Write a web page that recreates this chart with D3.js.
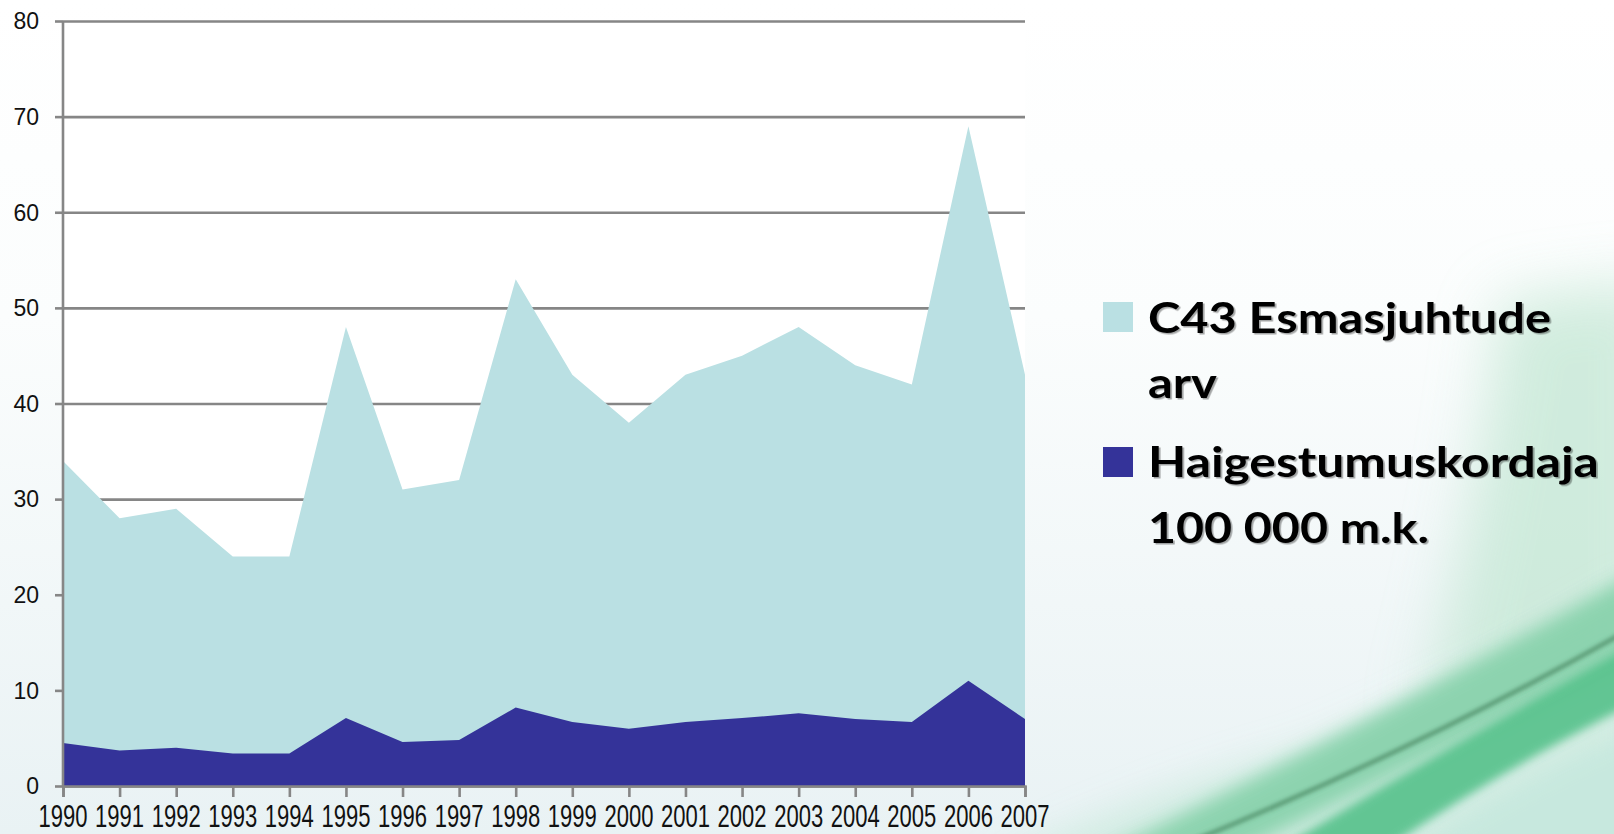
<!DOCTYPE html>
<html>
<head>
<meta charset="utf-8">
<script src="https://cdn.jsdelivr.net/npm/d3@7"></script>
<style>
  html, body { margin: 0; padding: 0; background: #ffffff; }
  svg { display: block; }
</style>
</head>
<body>
<svg id="chart" width="1614" height="834"></svg>
<script>
// Years on the category axis
const years = ["1990","1991","1992","1993","1994","1995","1996","1997","1998",
               "1999","2000","2001","2002","2003","2004","2005","2006","2007"];
// C43 first-time cases (count)
const esmasjuhtudeArv = [34, 28, 29, 24, 24, 48, 31, 32, 53, 43, 38, 43, 45, 48, 44, 42, 69, 43];
// Incidence per 100 000 inhabitants
const haigestumuskordaja = [4.5, 3.7, 4.0, 3.4, 3.4, 7.1, 4.6, 4.8, 8.2, 6.7, 6.0, 6.7, 7.1, 7.6, 7.0, 6.7, 11.0, 7.0];
// Value axis ticks
const yTicks = [0, 10, 20, 30, 40, 50, 60, 70, 80];
// Legend entries (label lines)
const legendItems = [
  { lines: ["C43 Esmasjuhtude", "arv"], color: "#bae0e3" },
  { lines: ["Haigestumuskordaja", "100 000 m.k."], color: "#343399" }
];

const svg = d3.select("#chart");
const W = 1614, H = 834;
const defs = svg.append("defs");

// ---------- slide background ----------
const bgGrad = defs.append("linearGradient").attr("id", "bgV")
  .attr("x1", 0).attr("y1", 0).attr("x2", 0).attr("y2", 1);
bgGrad.append("stop").attr("offset", "0").attr("stop-color", "#ffffff");
bgGrad.append("stop").attr("offset", "0.38").attr("stop-color", "#fbfdfd");
bgGrad.append("stop").attr("offset", "1").attr("stop-color", "#e9f2f4");
svg.append("rect").attr("width", W).attr("height", H).attr("fill", "url(#bgV)");

function blur(id, sd) {
  const f = defs.append("filter").attr("id", id)
    .attr("x", "-40%").attr("y", "-40%").attr("width", "180%").attr("height", "180%");
  f.append("feGaussianBlur").attr("stdDeviation", sd);
}
blur("b30", 30);
blur("b18", 18);
blur("b9", 9);
blur("b5", 5);
blur("b2", 2);

const swoosh = svg.append("g");
// faint green tint down the right edge
swoosh.append("path")
  .attr("d", "M1500,300 L1660,280 L1660,700 L1420,720 Q1480,500 1500,300 Z")
  .attr("fill", "#c6e8d6").attr("opacity", 0.8).attr("filter", "url(#b30)");
// pale mint glow along the bottom
swoosh.append("path")
  .attr("d", "M980,870 Q1150,790 1300,750 Q1450,690 1640,580 L1640,870 Z")
  .attr("fill", "#cdebdf").attr("opacity", 0.85).attr("filter", "url(#b18)");
// medium green band above the streak
swoosh.append("path")
  .attr("d", "M1090,860 Q1360,728 1640,570 L1640,650 Q1430,760 1220,860 Z")
  .attr("fill", "#86d1aa").attr("opacity", 0.9).attr("filter", "url(#b9)");
// bright green band right under the streak
swoosh.append("path")
  .attr("d", "M1260,860 Q1450,745 1640,640 L1640,700 Q1490,775 1370,860 Z")
  .attr("fill", "#4fbf86").attr("opacity", 0.85).attr("filter", "url(#b5)");
// lighter corner below the ribbon
swoosh.append("path")
  .attr("d", "M1400,860 Q1520,780 1640,730 L1640,860 Z")
  .attr("fill", "#c6e8de").attr("opacity", 0.85).attr("filter", "url(#b9)");
// dark streak
swoosh.append("path")
  .attr("d", "M1195,840 Q1420,748 1625,632")
  .attr("fill", "none").attr("stroke", "#3e7a55").attr("stroke-width", 3.5)
  .attr("opacity", 0.8).attr("filter", "url(#b2)");

// ---------- chart ----------
const x = d3.scalePoint().domain(years).range([63, 1025]);
const y = d3.scaleLinear().domain([0, 80]).range([786, 21]);

const gridColor = "#868686";

// plot area
svg.append("rect")
  .attr("x", x(years[0])).attr("y", y(80))
  .attr("width", x(years[years.length - 1]) - x(years[0]))
  .attr("height", y(0) - y(80))
  .attr("fill", "#ffffff");

// horizontal gridlines with left tick marks
svg.append("g").attr("transform", `translate(${x(years[0])},0)`)
  .call(d3.axisLeft(y).tickValues(yTicks)
        .tickSize(-(x(years[years.length - 1]) - x(years[0]))).tickFormat(""))
  .call(g => g.select(".domain").remove())
  .call(g => g.selectAll(".tick line").attr("stroke", gridColor).attr("stroke-width", 2.6));
svg.append("g").attr("transform", `translate(${x(years[0])},0)`)
  .call(d3.axisLeft(y).tickValues(yTicks).tickSize(8).tickFormat(""))
  .call(g => g.select(".domain").remove())
  .call(g => g.selectAll(".tick line").attr("stroke", gridColor).attr("stroke-width", 2.6));

// areas (drawn overlapping, count first, incidence in front)
const areaOf = vals => d3.area()
  .x((d, i) => x(years[i]))
  .y0(y(0))
  .y1(d => y(d))(vals);

svg.append("path").attr("d", areaOf(esmasjuhtudeArv)).attr("fill", "#bae0e3");
svg.append("path").attr("d", areaOf(haigestumuskordaja)).attr("fill", "#343399");

// value axis line
svg.append("line")
  .attr("x1", x(years[0])).attr("x2", x(years[0]))
  .attr("y1", y(80)).attr("y2", y(0))
  .attr("stroke", gridColor).attr("stroke-width", 2.6);

// value axis labels
svg.append("g").selectAll("text").data(yTicks).join("text")
  .attr("x", 39).attr("y", d => y(d))
  .attr("dy", "0.36em")
  .attr("text-anchor", "end")
  .attr("font-family", "'Liberation Sans', Arial, sans-serif")
  .attr("font-size", 23)
  .attr("fill", "#111111")
  .text(d => d);

// category axis
const xAxis = svg.append("g").attr("transform", `translate(0,${y(0)})`)
  .call(d3.axisBottom(x).tickSize(11).tickFormat(""));
xAxis.select(".domain").attr("stroke", gridColor).attr("stroke-width", 2.6);
xAxis.selectAll(".tick line").attr("stroke", gridColor).attr("stroke-width", 2.6);

// year labels: tall, horizontally condensed glyphs
const yearLabels = svg.append("g").selectAll("text").data(years).join("text")
  .attr("text-anchor", "middle")
  .attr("font-family", "'Liberation Sans', Arial, sans-serif")
  .attr("font-size", 31)
  .attr("fill", "#111111")
  .text(d => d);
yearLabels.attr("transform", function (d) {
  const w = this.getComputedTextLength() || 69;
  return `translate(${x(d)},827) scale(${49 / w},1)`;
});

// ---------- legend ----------
const shadow = defs.append("filter").attr("id", "shadow")
  .attr("x", "-5%").attr("y", "-20%").attr("width", "115%").attr("height", "150%");
shadow.append("feDropShadow").attr("dx", 1.5).attr("dy", 1.5)
  .attr("stdDeviation", 0.6).attr("flood-color", "#000").attr("flood-opacity", 0.35);

const legendTop = [302, 447];
const lineWidths = [[403, 69], [451, 281]];
const baselines = [[333, 398], [477, 543]];

const lg = svg.append("g");
legendItems.forEach((item, k) => {
  lg.append("rect")
    .attr("x", 1103).attr("y", legendTop[k])
    .attr("width", 30).attr("height", 30)
    .attr("fill", item.color);
  item.lines.forEach((ln, j) => {
    const t = lg.append("text")
      .attr("font-family", "Lato, 'Open Sans', sans-serif")
      .attr("font-weight", 700)
      .attr("font-size", 42)
      .attr("fill", "#000000")
      .attr("filter", "url(#shadow)")
      .text(ln);
    const w = t.node().getComputedTextLength() || lineWidths[k][j];
    t.attr("transform", `translate(1148,${baselines[k][j]}) scale(${lineWidths[k][j] / w},1)`);
  });
});
</script>
</body>
</html>
